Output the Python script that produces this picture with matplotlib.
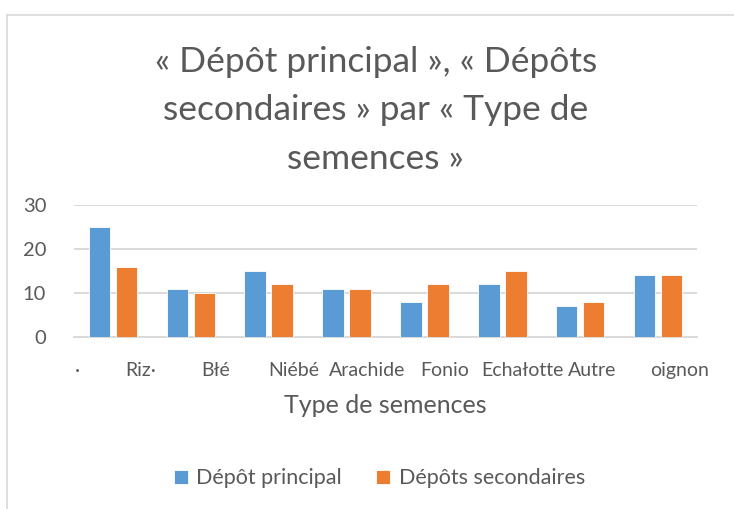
import matplotlib.pyplot as plt
import numpy as np
from matplotlib.lines import Line2D

plt.rcParams["font.family"] = ["Lato", "DejaVu Sans"]

# Valeurs par type de semences
principal = [25, 11, 15, 11, 8, 12, 7, 14]
secondaires = [16, 10, 12, 11, 12, 15, 8, 14]

# Étiquettes de l'axe des catégories, telles qu'exportées
tick_labels = ["·", "Riz·", "Błé", "Niébé", "Arachide", "Fonio", "Echałotte", "Autre", "oignon"]
tick_pos = [-0.46, 0.35, 1.32, 2.32, 3.27, 4.26, 5.26, 6.15, 7.28]

BLUE = "#5B9BD5"
ORANGE = "#ED7D31"
GREY = "#595959"
GRID = "#D9D9D9"

fig = plt.figure(figsize=(7.34, 5.09), dpi=100)
ax = fig.add_axes([74 / 734, 172 / 509, 623 / 734, 132 / 509])

x = np.arange(len(principal))
w = 0.276
off = 0.173
ax.bar(x - off, principal, w, color=BLUE, edgecolor="white", linewidth=0.6,
       label="Dépôt principal", zorder=3)
ax.bar(x + off, secondaires, w, color=ORANGE, edgecolor="white", linewidth=0.6,
       label="Dépôts secondaires", zorder=3)

ax.set_xlim(-0.5, len(principal) - 0.5)
ax.set_ylim(0, 30)
ax.set_yticks([0, 10, 20, 30])
ax.yaxis.grid(True, color=GRID, linewidth=1.4, zorder=0)
for s in ["top", "right", "left"]:
    ax.spines[s].set_visible(False)
ax.spines["bottom"].set_color(GRID)
ax.spines["bottom"].set_linewidth(1.4)

ax.set_xticks(tick_pos)
ax.set_xticklabels(tick_labels)
ax.tick_params(axis="both", length=0, colors=GREY, labelsize=14.5)
ax.tick_params(axis="x", labelsize=14)
ax.tick_params(axis="y", pad=20)
ax.tick_params(axis="x", pad=18)

ax.set_xlabel("Type de semences", color=GREY, fontsize=18, labelpad=11)

fig.text(0.512, 0.910, "« Dépôt principal », « Dépôts\nsecondaires » par « Type de\nsemences »",
         ha="center", va="top", fontsize=25.5, color=GREY, linespacing=1.64)

leg = fig.legend(loc="center", bbox_to_anchor=(0.517, 0.06), ncol=2, frameon=False,
                 fontsize=15.5, handlelength=0.65, handleheight=0.65,
                 handletextpad=0.4, columnspacing=1.6)
for t in leg.get_texts():
    t.set_color(GREY)

# cadre du graphique (bords gauche et haut)
fig.add_artist(Line2D([7 / 734, 7 / 734], [0, 1 - 15 / 509], color=GRID, linewidth=1.2))
fig.add_artist(Line2D([7 / 734, 1], [1 - 15 / 509, 1 - 15 / 509], color=GRID, linewidth=1.2))

fig.savefig("out.png", dpi=100)
